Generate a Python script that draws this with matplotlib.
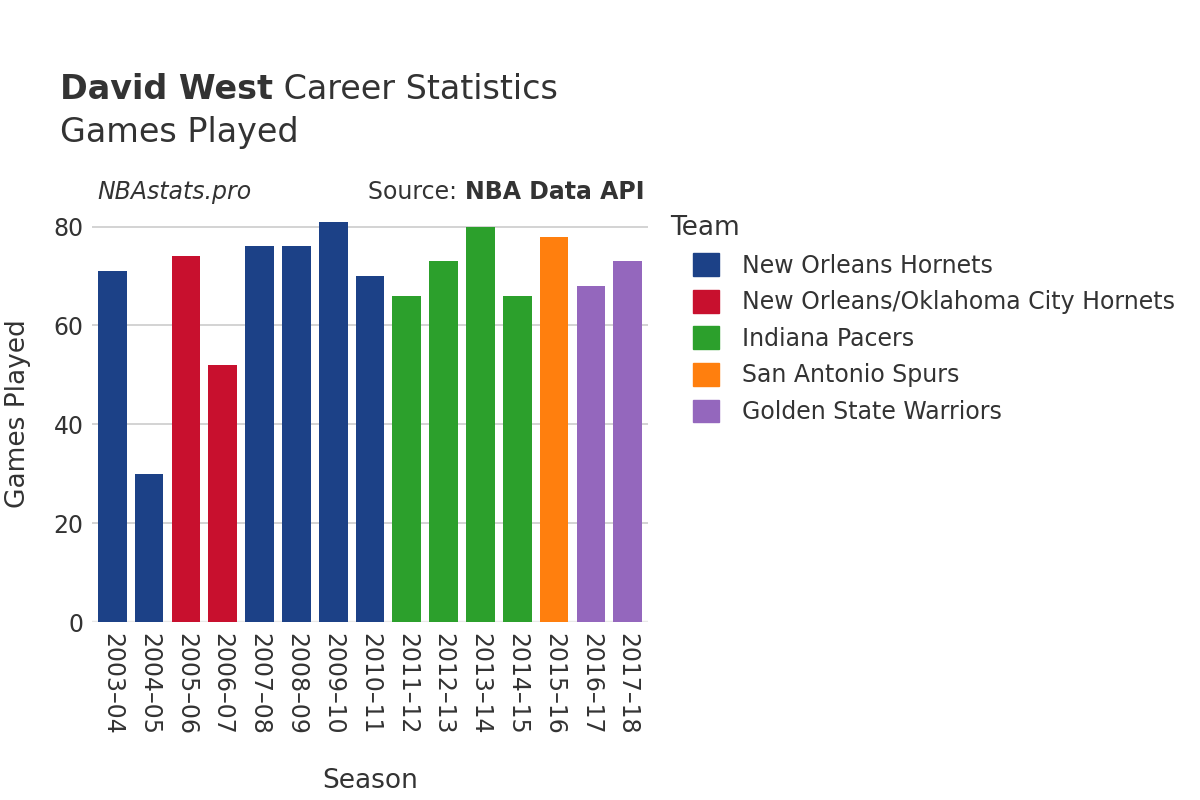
import matplotlib.pyplot as plt
from matplotlib.patches import Patch

seasons = ["2003–04", "2004–05", "2005–06", "2006–07", "2007–08", "2008–09", "2009–10", "2010–11",
           "2011–12", "2012–13", "2013–14", "2014–15", "2015–16", "2016–17", "2017–18"]
games = [71, 30, 74, 52, 76, 76, 81, 70, 66, 73, 80, 66, 78, 68, 73]
teams = ["NOH", "NOH", "NOK", "NOK", "NOH", "NOH", "NOH", "NOH",
         "IND", "IND", "IND", "IND", "SAS", "GSW", "GSW"]

team_names = {
    "NOH": "New Orleans Hornets",
    "NOK": "New Orleans/Oklahoma City Hornets",
    "IND": "Indiana Pacers",
    "SAS": "San Antonio Spurs",
    "GSW": "Golden State Warriors",
}
colores = {"NOH": "#1c4187", "NOK": "#c8102e", "IND": "#2ca02c", "SAS": "#ff7f0e", "GSW": "#9467bd"}

txt = "#333333"
fig = plt.figure(figsize=(12, 8), dpi=100)
ax = fig.add_axes([0.0767, 0.2225, 0.4633, 0.522])

x = range(len(seasons))
ax.bar(x, games, width=0.78, color=[colores[t] for t in teams], zorder=3)
ax.set_xlim(-0.55, len(seasons) - 0.45)
ax.set_ylim(0, 84.5)
ax.set_yticks([0, 20, 40, 60, 80])
ax.set_xticks(list(x))
ax.set_xticklabels(seasons, rotation=-90, fontsize=17, color=txt)
ax.tick_params(axis="y", labelsize=17, colors=txt, length=0, pad=6)
ax.tick_params(axis="x", length=0, pad=8)
ax.grid(axis="y", color="#cccccc", lw=1.2, zorder=0)
for s in ax.spines.values():
    s.set_visible(False)
ax.axhline(0, color="#e8e8e8", lw=2.5, zorder=2)

ax.set_xlabel("Season", fontsize=19, color=txt, labelpad=24)
ax.set_ylabel("Games Played", fontsize=19, color=txt, labelpad=16)

r = fig.canvas.get_renderer()
t1 = fig.text(0.05, 0.888, "David West", fontsize=24, fontweight="bold", color=txt, va="center")
bb = t1.get_window_extent(r)
fig.text(bb.x1 / 1200, 0.888, " Career Statistics", fontsize=24, color=txt, va="center")
fig.text(0.05, 0.834, "Games Played", fontsize=24, color=txt, va="center")
fig.text(0.081, 0.76, "NBAstats.pro", fontsize=17, style="italic", color=txt, va="center")
t2 = fig.text(0.537, 0.76, "NBA Data API", fontsize=17, fontweight="bold", color=txt, va="center", ha="right")
bb = t2.get_window_extent(r)
fig.text(bb.x0 / 1200, 0.76, "Source: ", fontsize=17, color=txt, va="center", ha="right")

handles = [Patch(color=colores[k], label=v) for k, v in team_names.items()]
leg = fig.legend(handles=handles, loc="upper left", bbox_to_anchor=(0.545, 0.752), frameon=False,
                 title="Team", fontsize=17, title_fontsize=19, labelspacing=0.52,
                 handlelength=1.1, handleheight=1.1, handletextpad=1.5, alignment="left",
                 borderaxespad=0.3)
for t in leg.get_texts():
    t.set_color(txt)
leg.get_title().set_color(txt)
# shift entries right relative to the title, like the reference
fig.canvas.draw()
for h in leg.legend_handles:
    h.set_x(h.get_x() + 16)
for t in leg.get_texts():
    t.set_x(t.get_position()[0] + 10)
leg._legend_handle_box.set_offset(lambda w, h, xd, yd, r: (0, 0))

fig.savefig("out.png", dpi=100)
